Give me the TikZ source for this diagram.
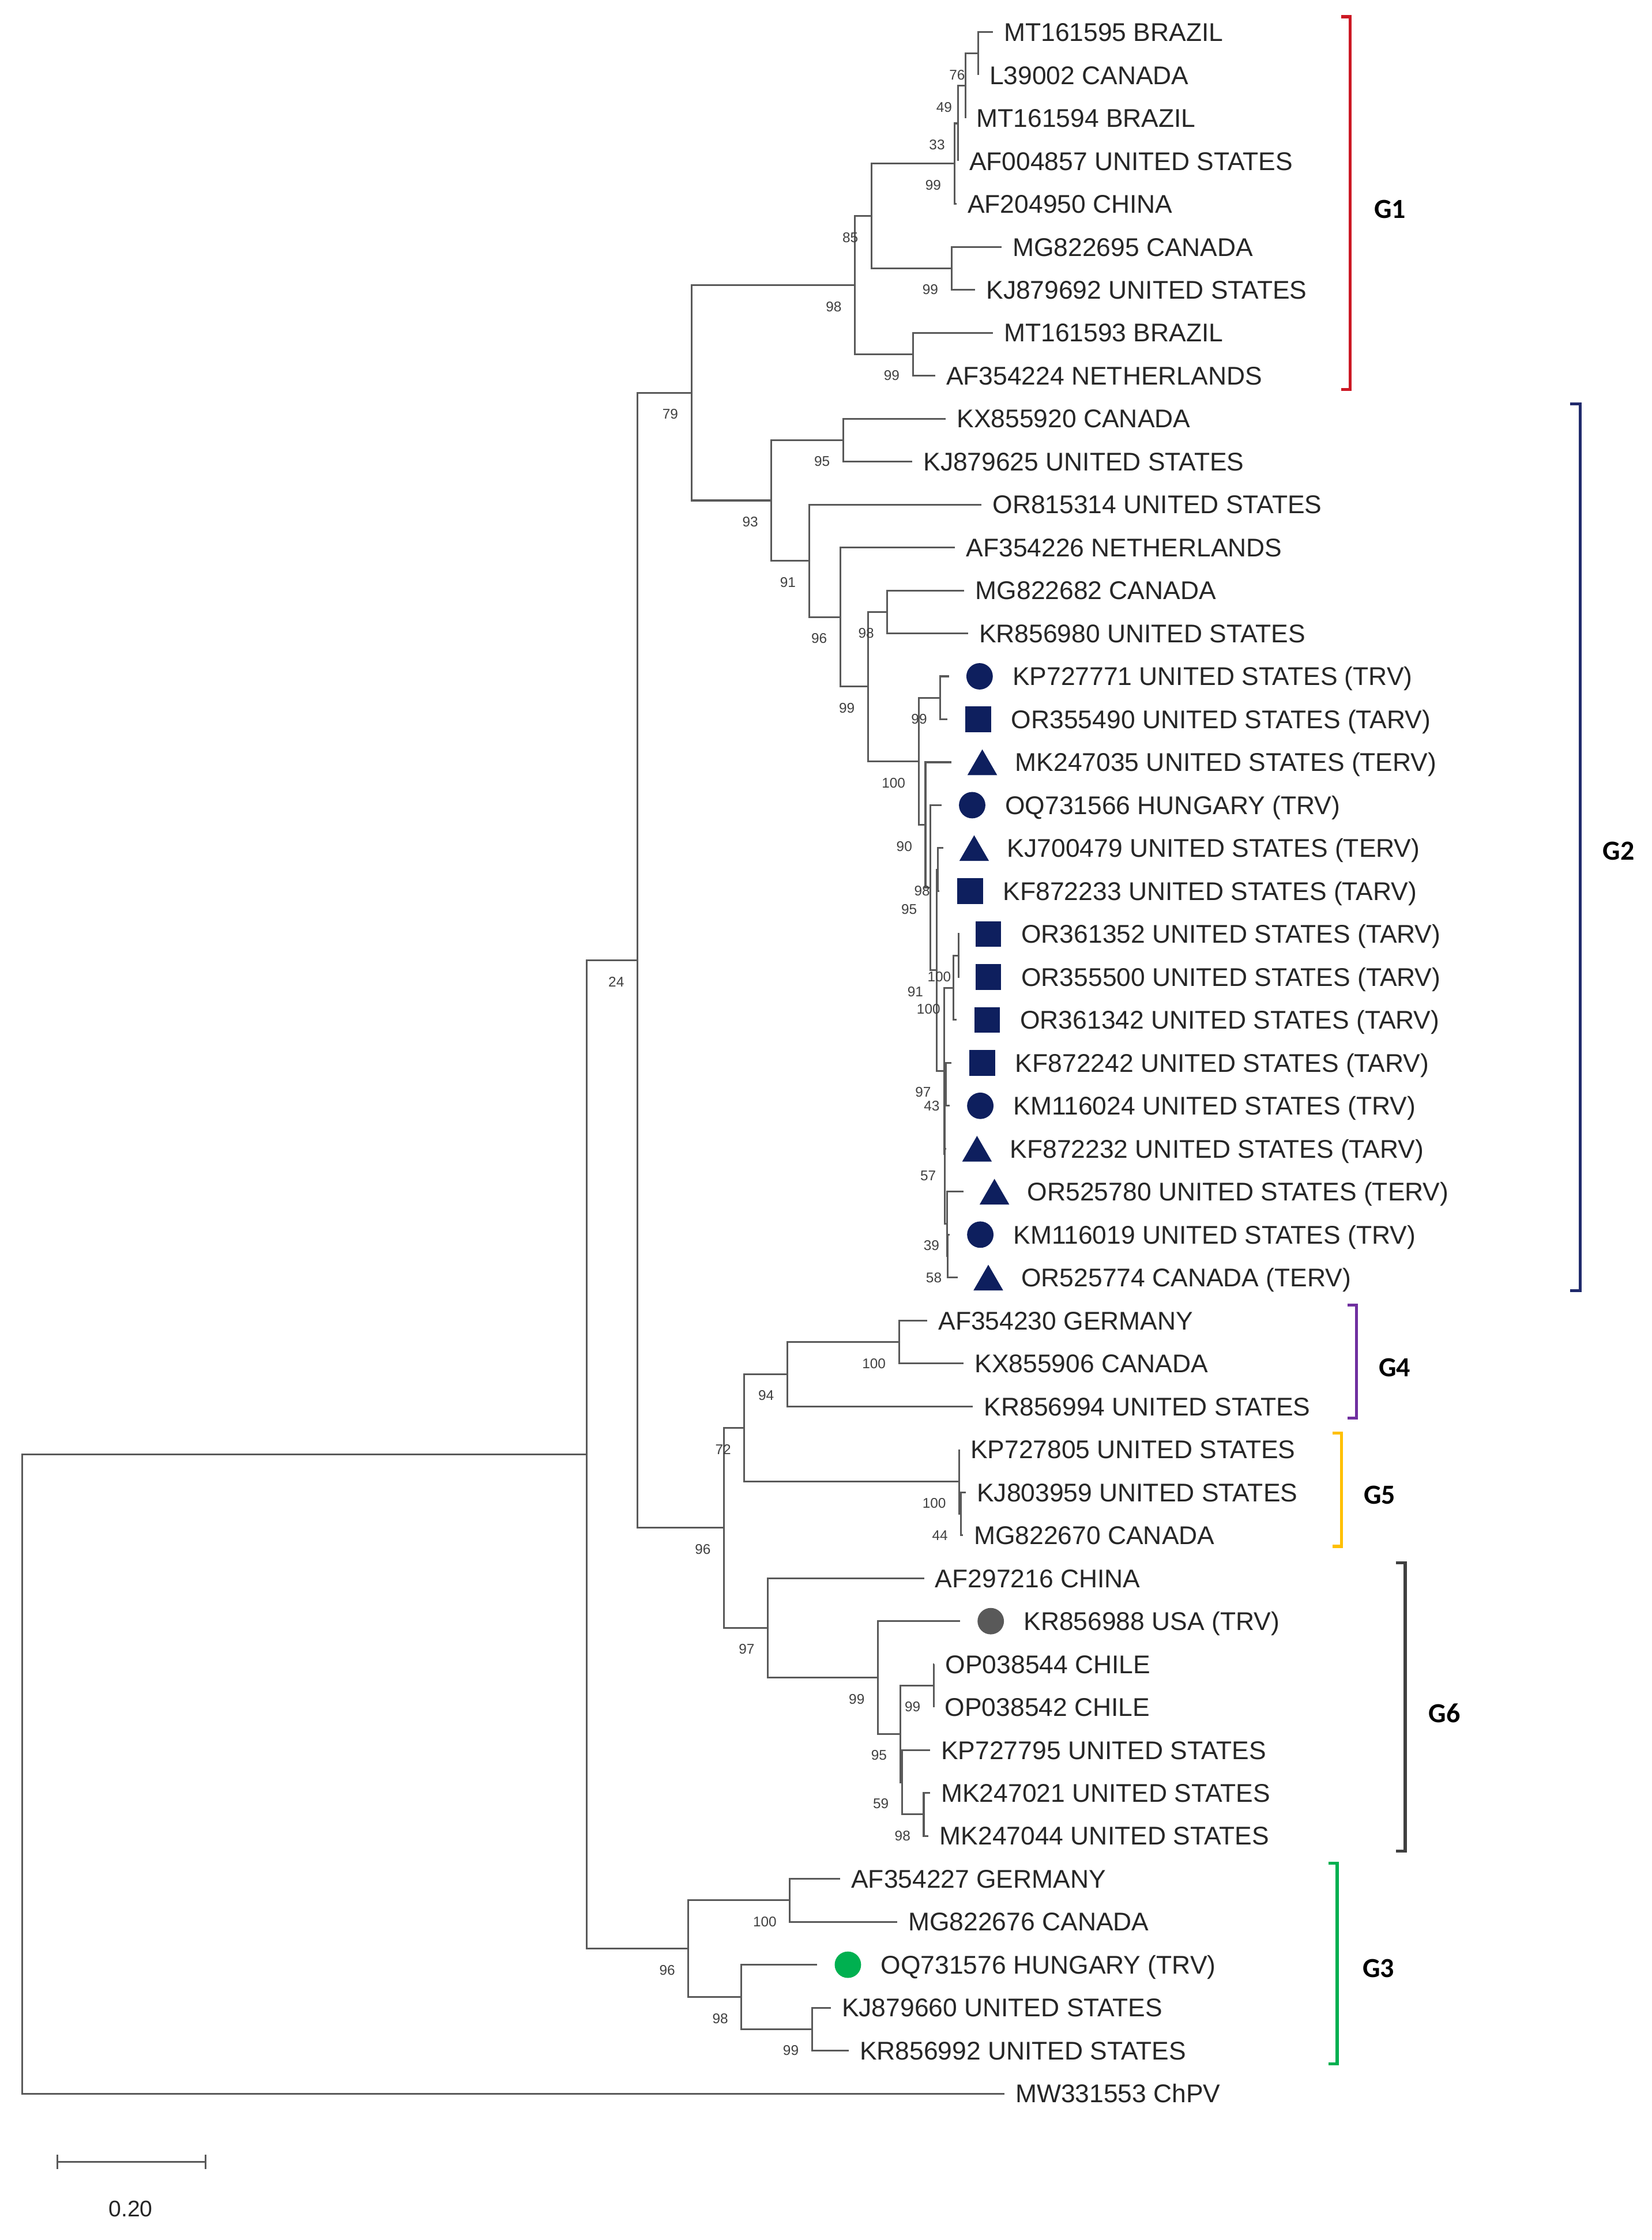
\documentclass[tikz,border=0pt]{standalone}
\usepackage{fontspec}
\setmainfont{Liberation Sans}
\newfontfamily\grpfam{Carlito}
\usepackage{tikz}
\usetikzlibrary{shapes.geometric}
\definecolor{mknavy}{RGB}{14,31,94}
\definecolor{gone}{RGB}{204,24,36}
\definecolor{gtwo}{RGB}{32,42,108}
\definecolor{gfour}{RGB}{112,48,160}
\definecolor{gfive}{RGB}{255,192,0}
\definecolor{gsix}{RGB}{64,64,64}
\definecolor{gthree}{RGB}{0,176,80}
\newcommand{\tipfont}{\fontsize{10.2}{12}\selectfont}
\newcommand{\bsfont}{\fontsize{5.6}{6}\selectfont}
\tikzset{
    x=0.02cm, y=-0.6014cm,
    br/.style={draw=black!65, line width=0.7pt},
    lab/.style={anchor=base west, inner sep=0pt, xshift=0.15cm, yshift=-0.128cm, font=\tipfont, text=black!85},
    mlab/.style={anchor=base west, inner sep=0pt, xshift=0.886cm, yshift=-0.128cm, font=\tipfont, text=black!85},
    bs/.style={anchor=east, inner sep=0pt, xshift=-0.18cm, yshift=-0.3cm, font=\bsfont, text=black!75},
    mk/.style={inner sep=0pt, draw=none, fill=mknavy, xshift=0.43cm},
    trv/.style={mk, circle, minimum size=0.37cm},
    tarv/.style={mk, rectangle, minimum size=0.36cm},
    terv/.style={mk, regular polygon, regular polygon sides=3, minimum size=0.48cm, yshift=-0.06cm},
    grp/.style={line width=1.2pt},
    glab/.style={font=\grpfam\bfseries\fontsize{11}{13}\selectfont, inner sep=0pt}
}

\begin{document}
\begin{tikzpicture}
    \path[use as bounding box, fill=white] (0,-0.7483) rectangle (1156,51.41);

    % tips G1
    \path (695,0) coordinate (t0) node[lab] (l0) {MT161595 BRAZIL};
    \path (684.8,1) coordinate (t1) node[lab] (l1) {L39002 CANADA};
    \path (675.7,2) coordinate (t2) node[lab] (l2) {MT161594 BRAZIL};
    \path (670.7,3) coordinate (t3) node[lab] (l3) {AF004857 UNITED STATES};
    \path (669.5,4) coordinate (t4) node[lab] (l4) {AF204950 CHINA};
    \path (701,5) coordinate (t5) node[lab] (l5) {MG822695 CANADA};
    \path (682.5,6) coordinate (t6) node[lab] (l6) {KJ879692 UNITED STATES};
    \path (695,7) coordinate (t7) node[lab] (l7) {MT161593 BRAZIL};
    \path (654.5,8) coordinate (t8) node[lab] (l8) {AF354224 NETHERLANDS};
    % tips G2
    \path (662,9) coordinate (t9) node[lab] (l9) {KX855920 CANADA};
    \path (638.5,10) coordinate (t10) node[lab] (l10) {KJ879625 UNITED STATES};
    \path (687,11) coordinate (t11) node[lab] (l11) {OR815314 UNITED STATES};
    \path (668.5,12) coordinate (t12) node[lab] (l12) {AF354226 NETHERLANDS};
    \path (675,13) coordinate (t13) node[lab] (l13) {MG822682 CANADA};
    \path (677.5,14) coordinate (t14) node[lab] (l14) {KR856980 UNITED STATES};
    \path (664.2,15) coordinate (t15) node[trv] (m15) {} node[mlab] (l15) {KP727771 UNITED STATES (TRV)};
    \path (663.3,16) coordinate (t16) node[tarv] (m16) {} node[mlab] (l16) {OR355490 UNITED STATES (TARV)};
    \path (666.1,17) coordinate (t17) node[terv] (m17) {} node[mlab] (l17) {MK247035 UNITED STATES (TERV)};
    \path (659,18) coordinate (t18) node[trv] (m18) {} node[mlab] (l18) {OQ731566 HUNGARY (TRV)};
    \path (660.4,19) coordinate (t19) node[terv] (m19) {} node[mlab] (l19) {KJ700479 UNITED STATES (TERV)};
    \path (657.6,20) coordinate (t20) node[tarv] (m20) {} node[mlab] (l20) {KF872233 UNITED STATES (TARV)};
    \path (670.3,21) coordinate (t21) node[tarv] (m21) {} node[mlab] (l21) {OR361352 UNITED STATES (TARV)};
    \path (670.3,22) coordinate (t22) node[tarv] (m22) {} node[mlab] (l22) {OR355500 UNITED STATES (TARV)};
    \path (669.5,23) coordinate (t23) node[tarv] (m23) {} node[mlab] (l23) {OR361342 UNITED STATES (TARV)};
    \path (666.1,24) coordinate (t24) node[tarv] (m24) {} node[mlab] (l24) {KF872242 UNITED STATES (TARV)};
    \path (664.7,25) coordinate (t25) node[trv] (m25) {} node[mlab] (l25) {KM116024 UNITED STATES (TRV)};
    \path (662.4,26) coordinate (t26) node[terv] (m26) {} node[mlab] (l26) {KF872232 UNITED STATES (TARV)};
    \path (674.6,27) coordinate (t27) node[terv] (m27) {} node[mlab] (l27) {OR525780 UNITED STATES (TERV)};
    \path (664.7,28) coordinate (t28) node[trv] (m28) {} node[mlab] (l28) {KM116019 UNITED STATES (TRV)};
    \path (670.3,29) coordinate (t29) node[terv] (m29) {} node[mlab] (l29) {OR525774 CANADA (TERV)};
    % tips G4, G5
    \path (649,30) coordinate (t30) node[lab] (l30) {AF354230 GERMANY};
    \path (674.5,31) coordinate (t31) node[lab] (l31) {KX855906 CANADA};
    \path (681,32) coordinate (t32) node[lab] (l32) {KR856994 UNITED STATES};
    \path (671.5,33) coordinate (t33) node[lab] (l33) {KP727805 UNITED STATES};
    \path (676,34) coordinate (t34) node[lab] (l34) {KJ803959 UNITED STATES};
    \path (674,35) coordinate (t35) node[lab] (l35) {MG822670 CANADA};
    % tips G6
    \path (646.8,36) coordinate (t36) node[lab] (l36) {AF297216 CHINA};
    \path (672,37) coordinate (t37) node[trv, fill=black!65] (m37) {} node[mlab] (l37) {KR856988 USA (TRV)};
    \path (654,38) coordinate (t38) node[lab] (l38) {OP038544 CHILE};
    \path (653.6,39) coordinate (t39) node[lab] (l39) {OP038542 CHILE};
    \path (651,40) coordinate (t40) node[lab] (l40) {KP727795 UNITED STATES};
    \path (651,41) coordinate (t41) node[lab] (l41) {MK247021 UNITED STATES};
    \path (650,42) coordinate (t42) node[lab] (l42) {MK247044 UNITED STATES};
    % tips G3 and outgroup
    \path (588,43) coordinate (t43) node[lab] (l43) {AF354227 GERMANY};
    \path (628,44) coordinate (t44) node[lab] (l44) {MG822676 CANADA};
    \path (572,45) coordinate (t45) node[trv, fill=gthree] (m45) {} node[mlab] (l45) {OQ731576 HUNGARY (TRV)};
    \path (581.5,46) coordinate (t46) node[lab] (l46) {KJ879660 UNITED STATES};
    \path (594,47) coordinate (t47) node[lab] (l47) {KR856992 UNITED STATES};
    \path (703,48) coordinate (t48) node[lab] (l48) {MW331553 ChPV};

    % inner nodes
    \coordinate (a1) at (684.8,0.5);
    \coordinate (a2) at (675.7,1.25);
    \coordinate (a3) at (670.7,2.125);
    \coordinate (a4) at (668,3.0625);
    \coordinate (a5) at (666,5.5);
    \coordinate (a6) at (610,4.28125);
    \coordinate (a7) at (639,7.5);
    \coordinate (a8) at (598.4,5.890625);
    \coordinate (b1) at (590.2,9.5);
    \coordinate (b2) at (621.1,13.5);
    \coordinate (b3) at (658.2,15.5);
    \coordinate (b4) at (656.3,19.5);
    \coordinate (b5) at (671,21.5);
    \coordinate (b6) at (667.5,22.25);
    \coordinate (b7) at (662,24.5);
    \coordinate (b8) at (663.5,28.5);
    \coordinate (b9) at (662.8,27.75);
    \coordinate (b10) at (661.5,26.125);
    \coordinate (b11) at (661,24.1875);
    \coordinate (b12) at (655.5,21.84375);
    \coordinate (b13) at (651.2,19.921875);
    \coordinate (b14) at (647.8,18.4609);
    \coordinate (b15) at (643,16.9805);
    \coordinate (b16) at (607.6,15.2402);
    \coordinate (b17) at (588.2,13.6201);
    \coordinate (b18) at (566.3,12.3101);
    \coordinate (b19) at (540,10.905);
    \coordinate (c1) at (484,8.3978);
    \coordinate (d1) at (629.3,30.5);
    \coordinate (d2) at (551.1,31.25);
    \coordinate (d3) at (672.8,34.5);
    \coordinate (d4) at (671.5,33.75);
    \coordinate (d5) at (521,32.5);
    \coordinate (e1) at (653.6,38.5);
    \coordinate (e2) at (646.6,41.5);
    \coordinate (e3) at (631.4,40.75);
    \coordinate (e4) at (630.1,39.625);
    \coordinate (e5) at (614.5,38.3125);
    \coordinate (e6) at (537.5,37.1563);
    \coordinate (d6) at (506.8,34.8281);
    \coordinate (c2) at (446.2,21.613);
    \coordinate (f1) at (552.9,43.5);
    \coordinate (f2) at (568.4,46.5);
    \coordinate (f3) at (519,45.75);
    \coordinate (f4) at (481.9,44.625);
    \coordinate (r2) at (410.8,33.119);
    \coordinate (r1) at (15.4,40.5595);

    % branches
    \draw[br] (t0) -| (a1) |- (t1);
    \draw[br] (a1) -| (a2) |- (t2);
    \draw[br] (a2) -| (a3) |- (t3);
    \draw[br] (a3) -| (a4) |- (t4);
    \draw[br] (t5) -| (a5) |- (t6);
    \draw[br] (a4) -| (a6) |- (a5);
    \draw[br] (t7) -| (a7) |- (t8);
    \draw[br] (a6) -| (a8) |- (a7);
    \draw[br] (t9) -| (b1) |- (t10);
    \draw[br] (t13) -| (b2) |- (t14);
    \draw[br] (t15) -| (b3) |- (t16);
    \draw[br] (t19) -| (b4) |- (t20);
    \draw[br] (t21) -| (b5) |- (t22);
    \draw[br] (b5) -| (b6) |- (t23);
    \draw[br] (t24) -| (b7) |- (t25);
    \draw[br] (t28) -| (b8) |- (t29);
    \draw[br] (t27) -| (b9) |- (b8);
    \draw[br] (b7) -| (b10) |- (b9) (b10) |- (t26);
    \draw[br] (b6) -| (b11) |- (b10);
    \draw[br] (b4) -| (b12) |- (b11);
    \draw[br] (t18) -| (b13) |- (b12);
    \draw[br] (t17) -| (b14) |- (b13);
    \draw[br] (b3) -| (b15) |- (b14);
    \draw[br] (b2) -| (b16) |- (b15);
    \draw[br] (t12) -| (b17) |- (b16);
    \draw[br] (t11) -| (b18) |- (b17);
    \draw[br] (b1) -| (b19) |- (b18);
    \draw[br] (a8) -| (c1) |- (b19);
    \draw[br] (t30) -| (d1) |- (t31);
    \draw[br] (d1) -| (d2) |- (t32);
    \draw[br] (t34) -| (d3) |- (t35);
    \draw[br] (t33) -| (d4) |- (d3);
    \draw[br] (d2) -| (d5) |- (d4);
    \draw[br] (t38) -| (e1) |- (t39);
    \draw[br] (t41) -| (e2) |- (t42);
    \draw[br] (t40) -| (e3) |- (e2);
    \draw[br] (e1) -| (e4) |- (e3);
    \draw[br] (t37) -| (e5) |- (e4);
    \draw[br] (t36) -| (e6) |- (e5);
    \draw[br] (d5) -| (d6) |- (e6);
    \draw[br] (c1) -| (c2) |- (d6);
    \draw[br] (t43) -| (f1) |- (t44);
    \draw[br] (t46) -| (f2) |- (t47);
    \draw[br] (t45) -| (f3) |- (f2);
    \draw[br] (f1) -| (f4) |- (f3);
    \draw[br] (c2) -| (r2) |- (f4);
    \draw[br] (r2) -| (r1) |- (t48);

    % bootstrap values
    \node[bs] (s-a1) at (a1) {76};
    \node[bs] (s-a2) at (a2) {49};
    \node[bs] (s-a3) at (a3) {33};
    \node[bs] (s-a4) at (a4) {99};
    \node[bs] (s-a5) at (a5) {99};
    \node[bs] (s-a6) at (a6) {85};
    \node[bs] (s-a7) at (a7) {99};
    \node[bs] (s-a8) at (a8) {98};
    \node[bs] (s-b1) at (b1) {95};
    \node[bs] (s-b2) at (b2) {98};
    \node[bs] (s-b3) at (b3) {99};
    \node[bs, xshift=0.08cm] (s-b4) at (b4) {98};
    \node[bs, xshift=0.08cm] (s-b5) at (b5) {100};
    \node[bs] (s-b6) at (b6) {100};
    \node[bs, xshift=0.1cm] (s-b7) at (b7) {43};
    \node[bs, xshift=0.1cm] (s-b8) at (b8) {58};
    \node[bs, xshift=0.08cm] (s-b9) at (b9) {39};
    \node[bs, xshift=0.06cm] (s-b10) at (b10) {57};
    \node[bs] (s-b11) at (b11) {97};
    \node[bs] (s-b12) at (b12) {91};
    \node[bs] (s-b13) at (b13) {95};
    \node[bs] (s-b14) at (b14) {90};
    \node[bs] (s-b15) at (b15) {100};
    \node[bs] (s-b16) at (b16) {99};
    \node[bs] (s-b17) at (b17) {96};
    \node[bs] (s-b18) at (b18) {91};
    \node[bs] (s-b19) at (b19) {93};
    \node[bs] (s-c1) at (c1) {79};
    \node[bs] (s-d1) at (d1) {100};
    \node[bs] (s-d2) at (d2) {94};
    \node[bs] (s-d3) at (d3) {44};
    \node[bs] (s-d4) at (d4) {100};
    \node[bs] (s-d5) at (d5) {72};
    \node[bs] (s-e1) at (e1) {99};
    \node[bs] (s-e2) at (e2) {98};
    \node[bs] (s-e3) at (e3) {59};
    \node[bs] (s-e4) at (e4) {95};
    \node[bs] (s-e5) at (e5) {99};
    \node[bs] (s-e6) at (e6) {97};
    \node[bs] (s-d6) at (d6) {96};
    \node[bs] (s-c2) at (c2) {24};
    \node[bs] (s-f1) at (f1) {100};
    \node[bs] (s-f2) at (f2) {99};
    \node[bs] (s-f3) at (f3) {98};
    \node[bs] (s-f4) at (f4) {96};

    % genogroup brackets
    \draw[grp, gone] (939,-0.36) -- (945.2,-0.36) -- (945.2,8.32) -- (939,8.32);
    \draw[grp, gtwo] (1099,8.66) -- (1106,8.66) -- (1106,29.3) -- (1099,29.3);
    \draw[grp, gfour] (943.2,29.64) -- (949.4,29.64) -- (949.4,32.27) -- (943.2,32.27);
    \draw[grp, gfive] (932.9,32.62) -- (939,32.62) -- (939,35.26) -- (932.9,35.26);
    \draw[grp, gsix] (977,35.64) -- (983.6,35.64) -- (983.6,42.35) -- (977,42.35);
    \draw[grp, gthree] (929.8,42.64) -- (936,42.64) -- (936,47.31) -- (929.8,47.31);
    \node[glab] (G1) at (973,4.12) {G1};
    \node[glab] (G2) at (1133,19.07) {G2};
    \node[glab] (G4) at (976.2,31.1) {G4};
    \node[glab] (G5) at (965.8,34.06) {G5};
    \node[glab] (G6) at (1011.1,39.14) {G6};
    \node[glab] (G3) at (965,45.08) {G3};

    % scale bar
    \coordinate (sb0) at (40.2,49.594);
    \coordinate (sb1) at (144,49.594);
    \draw[br] (sb0) -- (sb1);
    \draw[br] ([yshift=0.1cm]sb0) -- ([yshift=-0.1cm]sb0);
    \draw[br] ([yshift=0.1cm]sb1) -- ([yshift=-0.1cm]sb1);
    \node[font=\fontsize{9}{10}\selectfont, text=black!85] (sbl) at (91.4,50.678) {0.20};
\end{tikzpicture}
\end{document}
